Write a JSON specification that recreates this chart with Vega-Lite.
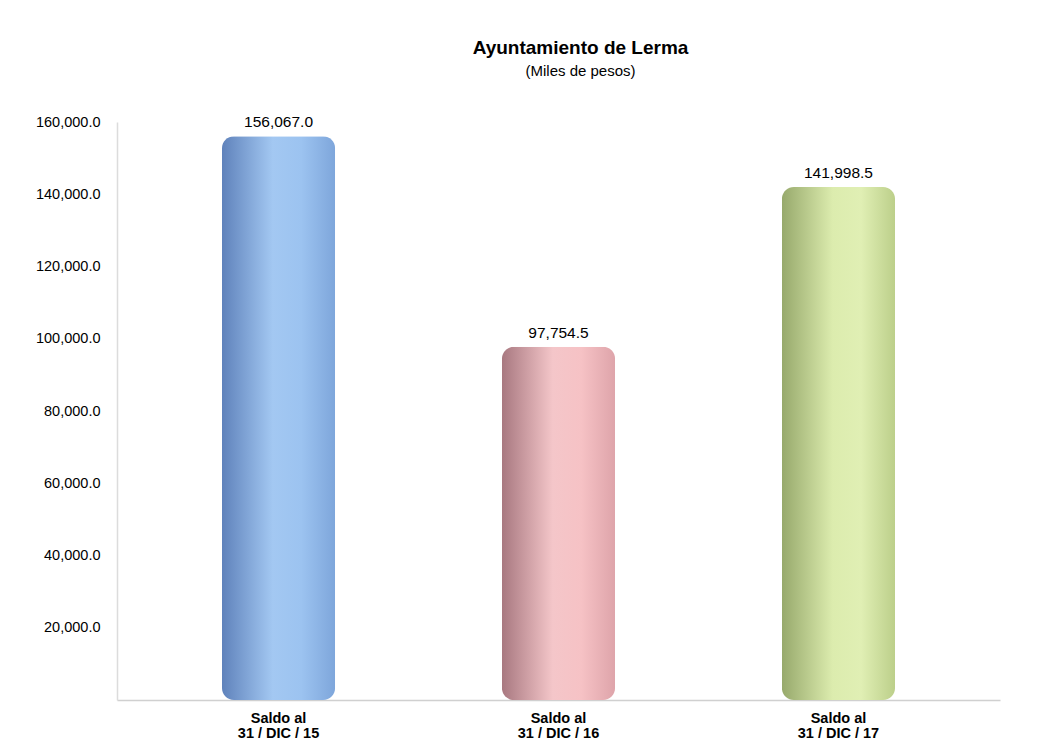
{
  "$schema": "https://vega.github.io/schema/vega-lite/v6.json",
  "width": 883,
  "height": 578,
  "autosize": {"type": "none"},
  "padding": {"left": 117, "top": 122, "right": 50, "bottom": 55},
  "background": "white",
  "config": {
    "view": {"stroke": null},
    "font": "Liberation Sans",
    "title": {"font": "Liberation Sans", "subtitleFont": "Liberation Sans"}
  },
  "title": {
    "text": "Ayuntamiento de Lerma",
    "subtitle": "(Miles de pesos)",
    "fontSize": 19,
    "fontWeight": "bold",
    "color": "#000000",
    "subtitleFontSize": 15,
    "subtitleColor": "#000000",
    "subtitlePadding": 6,
    "anchor": "middle",
    "dx": 22,
    "offset": 35
  },
  "data": {
    "values": [
      {"periodo": "Saldo al|31 / DIC / 15", "saldo": 156067.0},
      {"periodo": "Saldo al|31 / DIC / 16", "saldo": 97754.5},
      {"periodo": "Saldo al|31 / DIC / 17", "saldo": 141998.5}
    ]
  },
  "encoding": {
    "x": {
      "field": "periodo",
      "type": "nominal",
      "sort": null,
      "scale": {"paddingInner": 0.596, "paddingOuter": 0.375},
      "axis": {
        "title": null,
        "labelAngle": 0,
        "labelExpr": "split(datum.label, '|')",
        "labelFontWeight": "bold",
        "labelFontSize": 14.5,
        "labelColor": "#000000",
        "labelPadding": 11,
        "labelLineHeight": 15,
        "ticks": false,
        "domainColor": "#d0d0d0",
        "domainWidth": 1.5
      }
    },
    "y": {
      "field": "saldo",
      "type": "quantitative",
      "scale": {"domain": [0, 160000], "nice": false},
      "axis": {
        "title": null,
        "values": [20000, 40000, 60000, 80000, 100000, 120000, 140000, 160000],
        "format": ",.1f",
        "labelFontSize": 14.5,
        "labelColor": "#000000",
        "labelPadding": 17,
        "ticks": false,
        "grid": false,
        "domainColor": "#dcdcdc",
        "domainWidth": 1.5
      }
    }
  },
  "layer": [
    {
      "transform": [{"filter": "datum.periodo == 'Saldo al|31 / DIC / 15'"}],
      "mark": {
        "type": "bar",
        "cornerRadius": 12,
        "fill": {
          "gradient": "linear", "x1": 0, "y1": 0, "x2": 1, "y2": 0,
          "stops": [
            {"offset": 0, "color": "#5f82bb"},
            {"offset": 0.45, "color": "#a3c8f2"},
            {"offset": 0.7, "color": "#9cc3f0"},
            {"offset": 1, "color": "#7ea6db"}
          ]
        }
      }
    },
    {
      "transform": [{"filter": "datum.periodo == 'Saldo al|31 / DIC / 16'"}],
      "mark": {
        "type": "bar",
        "cornerRadius": 12,
        "fill": {
          "gradient": "linear", "x1": 0, "y1": 0, "x2": 1, "y2": 0,
          "stops": [
            {"offset": 0, "color": "#a87880"},
            {"offset": 0.45, "color": "#f4c6c9"},
            {"offset": 0.7, "color": "#f6c2c5"},
            {"offset": 1, "color": "#dea4aa"}
          ]
        }
      }
    },
    {
      "transform": [{"filter": "datum.periodo == 'Saldo al|31 / DIC / 17'"}],
      "mark": {
        "type": "bar",
        "cornerRadius": 12,
        "fill": {
          "gradient": "linear", "x1": 0, "y1": 0, "x2": 1, "y2": 0,
          "stops": [
            {"offset": 0, "color": "#97a96c"},
            {"offset": 0.45, "color": "#dcecae"},
            {"offset": 0.7, "color": "#e0efb4"},
            {"offset": 1, "color": "#bccf8a"}
          ]
        }
      }
    },
    {
      "mark": {"type": "text", "baseline": "bottom", "dy": -6, "fontSize": 15.5, "color": "#000000"},
      "encoding": {
        "text": {"field": "saldo", "type": "quantitative", "format": ",.1f"}
      }
    }
  ]
}
